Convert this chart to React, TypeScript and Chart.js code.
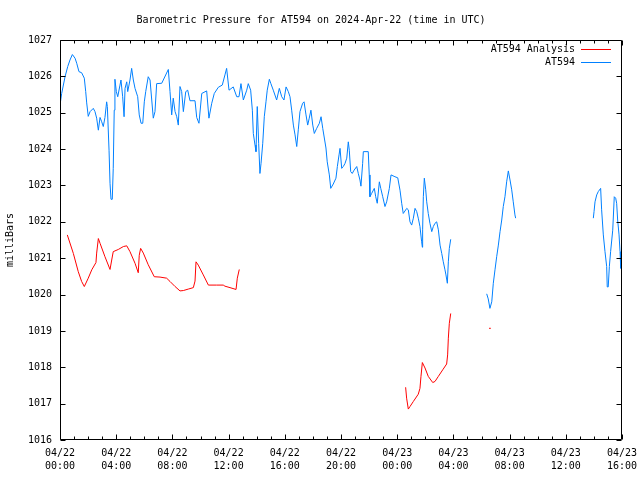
import React, { useEffect, useRef } from "react";
import { Chart, registerables } from "chart.js";

Chart.register(...registerables);

const TITLE = "Barometric Pressure for AT594 on 2024-Apr-22 (time in UTC)";
const Y_TITLE = "milliBars";
const OBS_LABEL = "AT594";
const ANALYSIS_LABEL = "AT594 Analysis";
const OBS_COLOR = "#0080ff";
const ANALYSIS_COLOR = "#ff0000";
const FONT_FAMILY = "'DejaVu Sans Mono', 'Liberation Mono', monospace";

const X_MIN = 0;
const X_MAX = 40;
const Y_MIN = 1016;
const Y_MAX = 1027;

const xTickHours = [0, 4, 8, 12, 16, 20, 24, 28, 32, 36, 40];
const xTickDates = ["04/22", "04/22", "04/22", "04/22", "04/22", "04/22", "04/23", "04/23", "04/23", "04/23", "04/23"];
const xTickTimes = ["00:00", "04:00", "08:00", "12:00", "16:00", "20:00", "00:00", "04:00", "08:00", "12:00", "16:00"];
const yTickValues = [1016, 1017, 1018, 1019, 1020, 1021, 1022, 1023, 1024, 1025, 1026, 1027];

// Observations (hours since 2024-04-22 00:00 UTC), null = no data
const obsHours = [
  0, 0.12, 0.36, 0.55, 0.71, 0.88, 1.07, 1.19, 1.35, 1.54,
  1.73, 1.83, 1.9, 2.01, 2.14, 2.37, 2.49, 2.61, 2.73, 2.85,
  2.97, 3.08, 3.2, 3.32, 3.37, 3.49, 3.56, 3.63, 3.72, 3.79,
  3.86, 3.91, 4.01, 4.11, 4.27, 4.34, 4.46, 4.56, 4.63, 4.75,
  4.82, 4.98, 5.1, 5.22, 5.34, 5.53, 5.64, 5.77, 5.89, 6.0,
  6.1, 6.28, 6.41, 6.53, 6.64, 6.76, 6.88, 7.24, 7.71, 7.83,
  7.95, 8.06, 8.19, 8.31, 8.42, 8.54, 8.66, 8.78, 8.95, 9.09,
  9.25, 9.61, 9.73, 9.89, 10.09, 10.44, 10.6, 10.8, 10.98, 11.27,
  11.55, 11.74, 11.86, 12.03, 12.33, 12.58, 12.74, 12.88, 13.05, 13.29,
  13.4, 13.57, 13.69, 13.76, 13.88, 13.95, 14.04, 14.14, 14.23, 14.31,
  14.43, 14.54, 14.66, 14.75, 14.9, 15.0, 15.18, 15.42, 15.61, 15.78,
  15.94, 16.09, 16.25, 16.37, 16.49, 16.61, 16.73, 16.85, 16.96, 17.08,
  17.27, 17.37, 17.51, 17.63, 17.74, 17.86, 17.99, 18.1, 18.27, 18.46,
  18.58, 18.7, 18.79, 18.93, 19.02, 19.17, 19.27, 19.45, 19.64, 19.74,
  19.86, 19.93, 20.05, 20.16, 20.28, 20.41, 20.52, 20.59, 20.69, 20.8,
  20.93, 21.12, 21.23, 21.35, 21.42, 21.54, 21.59, 21.94, 22.01, 22.06,
  22.18, 22.37, 22.47, 22.58, 22.73, 22.83, 22.97, 23.13, 23.25, 23.44,
  23.56, 23.84, 24.04, 24.2, 24.32, 24.43, 24.68, 24.79, 24.91, 25.03,
  25.15, 25.27, 25.39, 25.5, 25.62, 25.74, 25.79, 25.81, 25.86, 25.93,
  26.03, 26.1, 26.21, 26.33, 26.46, 26.57, 26.69, 26.81, 26.93, 27.05,
  27.17, 27.28, 27.4, 27.47, 27.57, 27.64, 27.71, 27.81, 29.0, 30.37,
  30.48, 30.6, 30.73, 30.84, 30.96, 31.08, 31.2, 31.32, 31.44, 31.55,
  31.67, 31.79, 31.91, 32.03, 32.15, 32.26, 32.38, 32.43, 35.0, 37.96,
  38.01, 38.08, 38.2, 38.31, 38.48, 38.55, 38.67, 38.79, 38.91, 38.95,
  39.02, 39.1, 39.19, 39.34, 39.45, 39.55, 39.62, 39.69, 39.79, 39.86,
  39.91,
];
const obsPressure = [
  1025.21, 1025.53, 1025.99, 1026.27, 1026.45, 1026.6, 1026.5, 1026.36, 1026.13, 1026.1,
  1025.95, 1025.58, 1025.27, 1024.9, 1025.03, 1025.12, 1025.03, 1024.85, 1024.52, 1024.87,
  1024.75, 1024.62, 1024.87, 1025.3, 1025.17, 1023.97, 1023.06, 1022.62, 1022.62, 1023.47,
  1025.07, 1025.92, 1025.58, 1025.44, 1025.76, 1025.9, 1025.44, 1024.89, 1025.67, 1025.85,
  1025.58, 1025.9, 1026.22, 1025.9, 1025.67, 1025.44, 1024.94, 1024.71, 1024.71, 1025.3,
  1025.58, 1025.99, 1025.9, 1025.35, 1024.85, 1025.03, 1025.8, 1025.81, 1026.19, 1025.58,
  1024.94, 1025.4, 1025.03, 1024.89, 1024.66, 1025.72, 1025.58, 1025.03, 1025.58, 1025.62,
  1025.33, 1025.33, 1024.87, 1024.71, 1025.53, 1025.6, 1024.85, 1025.26, 1025.53, 1025.7,
  1025.76, 1026.04, 1026.22, 1025.62, 1025.71, 1025.44, 1025.44, 1025.8, 1025.35, 1025.62,
  1025.8, 1025.62, 1025.07, 1024.43, 1024.11, 1023.93, 1025.17, 1024.16, 1023.33, 1023.61,
  1024.16, 1024.89, 1025.3, 1025.62, 1025.92, 1025.81, 1025.62, 1025.35, 1025.67, 1025.44,
  1025.35, 1025.71, 1025.58, 1025.44, 1025.07, 1024.66, 1024.39, 1024.07, 1024.53, 1025.03,
  1025.26, 1025.3, 1024.94, 1024.66, 1024.85, 1025.07, 1024.66, 1024.43, 1024.57, 1024.71,
  1024.89, 1024.57, 1024.36, 1024.03, 1023.65, 1023.29, 1022.92, 1023.04, 1023.2, 1023.52,
  1023.84, 1024.02, 1023.47, 1023.52, 1023.6, 1023.75, 1024.2, 1023.97, 1023.38, 1023.33,
  1023.42, 1023.52, 1023.33, 1023.15, 1022.98, 1023.6, 1023.93, 1023.93, 1023.29, 1022.69,
  1022.78, 1022.92, 1022.69, 1022.51, 1023.1, 1022.92, 1022.69, 1022.42, 1022.55, 1022.92,
  1023.29, 1023.24, 1023.21, 1022.87, 1022.51, 1022.23, 1022.37, 1022.33, 1022.0, 1021.91,
  1022.1, 1022.37, 1022.28, 1022.1, 1021.87, 1021.45, 1021.3, 1021.78, 1022.69, 1023.2,
  1022.88, 1022.55, 1022.23, 1021.96, 1021.73, 1021.87, 1021.96, 1022.0, 1021.78, 1021.36,
  1021.13, 1020.9, 1020.68, 1020.54, 1020.31, 1020.9, 1021.27, 1021.52, null, 1020.02,
  1019.88, 1019.62, 1019.8, 1020.31, 1020.68, 1021.04, 1021.36, 1021.73, 1022.05, 1022.42,
  1022.69, 1023.1, 1023.4, 1023.15, 1022.88, 1022.55, 1022.19, 1022.1, null, 1022.1,
  1022.28, 1022.55, 1022.74, 1022.83, 1022.92, 1022.33, 1021.64, 1021.18, 1020.77, 1020.21,
  1020.21, 1020.77, 1021.18, 1021.77, 1022.69, 1022.65, 1022.51, 1022.05, 1021.64, 1021.18,
  1020.72,
];

// Analysis series
const analysisHours = [
  0.52, 0.95, 1.3, 1.54, 1.73, 2.01, 2.26, 2.56, 2.61, 2.73,
  2.85, 3.2, 3.56, 3.68, 3.79, 4.15, 4.51, 4.75, 4.98, 5.34,
  5.57, 5.64, 5.74, 5.93, 6.28, 6.71, 7.12, 7.59, 7.83, 8.19,
  8.54, 8.78, 9.13, 9.49, 9.61, 9.68, 9.84, 10.2, 10.56, 11.15,
  11.62, 11.74, 12.1, 12.53, 12.62, 12.76, 18.0, 24.6, 24.67, 24.79,
  24.91, 25.15, 25.5, 25.62, 25.69, 25.79, 25.98, 26.21, 26.53, 26.69,
  26.93, 27.24, 27.52, 27.59, 27.64, 27.71, 27.81, 29.0, 30.6,
];
const analysisPressure = [
  1021.64, 1021.13, 1020.63, 1020.36, 1020.22, 1020.45, 1020.68, 1020.88, 1021.14, 1021.54,
  1021.41, 1021.04, 1020.69, 1020.95, 1021.18, 1021.24, 1021.32, 1021.34, 1021.18, 1020.86,
  1020.6, 1021.08, 1021.27, 1021.14, 1020.82, 1020.49, 1020.48, 1020.45, 1020.36, 1020.22,
  1020.1, 1020.11, 1020.15, 1020.19, 1020.37, 1020.9, 1020.81, 1020.54, 1020.26, 1020.26,
  1020.26, 1020.23, 1020.19, 1020.14, 1020.45, 1020.69, null, 1017.45, 1017.15, 1016.85,
  1016.92, 1017.06, 1017.26, 1017.42, 1017.74, 1018.13, 1017.98, 1017.75, 1017.58, 1017.61,
  1017.75, 1017.93, 1018.09, 1018.34, 1018.8, 1019.21, 1019.48, null, 1019.07,
];

function toPoints(hours: number[], values: (number | null)[]) {
  return hours.map((h, i) => ({ x: h, y: values[i] }));
}

function isolatedRadius(ctx: any) {
  const d = ctx.dataset.data as { x: number; y: number | null }[];
  const i = ctx.dataIndex;
  if (!d[i] || d[i].y == null) return 0;
  const prev = d[i - 1];
  const next = d[i + 1];
  const prevEmpty = !prev || prev.y == null;
  const nextEmpty = !next || next.y == null;
  return prevEmpty && nextEmpty ? 1 : 0;
}

const frameLegendPlugin = {
  id: "gnuFrameLegend",
  afterDatasetsDraw(chart: any) {
    const { ctx, chartArea: a, scales } = chart;
    const xs = scales.x;
    const ys = scales.y;
    const L = Math.round(a.left) + 0.5;
    const R = Math.round(a.right) - 0.5;
    const T = Math.round(a.top) + 0.5;
    const B = Math.round(a.bottom) - 0.5;
    ctx.save();
    ctx.strokeStyle = "#000";
    ctx.lineWidth = 1;
    ctx.beginPath();
    ctx.rect(L, T, R - L, B - T);
    for (let h = X_MIN; h <= X_MAX; h++) {
      const px = Math.round(xs.getPixelForValue(h)) + 0.5;
      const len = h % 4 === 0 ? 5 : 3;
      ctx.moveTo(px, B);
      ctx.lineTo(px, B - len);
      ctx.moveTo(px, T);
      ctx.lineTo(px, T + len);
    }
    for (const v of yTickValues) {
      const py = Math.round(ys.getPixelForValue(v)) + 0.5;
      ctx.moveTo(L, py);
      ctx.lineTo(L + 5, py);
      ctx.moveTo(R, py);
      ctx.lineTo(R - 5, py);
    }
    ctx.stroke();

    // key (legend) inside top-right
    const entries = [
      { label: ANALYSIS_LABEL, color: ANALYSIS_COLOR },
      { label: OBS_LABEL, color: OBS_COLOR },
    ];
    ctx.font = `10px ${FONT_FAMILY}`;
    ctx.textAlign = "right";
    ctx.textBaseline = "middle";
    entries.forEach((e, i) => {
      const y = Math.round(a.top + 9 + i * 13) + 0.5;
      ctx.fillStyle = "#000";
      ctx.fillText(e.label, a.right - 47, y);
      ctx.strokeStyle = e.color;
      ctx.beginPath();
      ctx.moveTo(a.right - 41, y);
      ctx.lineTo(a.right - 11, y);
      ctx.stroke();
    });
    ctx.restore();
  },
};

export default function App() {
  const canvasRef = useRef<HTMLCanvasElement | null>(null);

  useEffect(() => {
    if (!canvasRef.current) return;
    const font = { family: FONT_FAMILY, size: 10, weight: "normal" as const, lineHeight: 1.3 };
    const chart = new Chart(canvasRef.current, {
      type: "line",
      data: {
        datasets: [
          {
            label: ANALYSIS_LABEL,
            data: toPoints(analysisHours, analysisPressure) as any,
            borderColor: ANALYSIS_COLOR,
            backgroundColor: ANALYSIS_COLOR,
            borderWidth: 1,
            pointRadius: isolatedRadius as any,
            pointStyle: "rect",
            pointBorderWidth: 0,
            tension: 0,
            spanGaps: false,
          },
          {
            label: OBS_LABEL,
            data: toPoints(obsHours, obsPressure) as any,
            borderColor: OBS_COLOR,
            backgroundColor: OBS_COLOR,
            borderWidth: 1,
            pointRadius: isolatedRadius as any,
            pointStyle: "rect",
            pointBorderWidth: 0,
            tension: 0,
            spanGaps: false,
          },
        ],
      },
      options: {
        animation: false,
        responsive: false,
        events: [],
        layout: { padding: { left: 0, right: 18, top: 0, bottom: 0 } },
        plugins: {
          legend: { display: false },
          tooltip: { enabled: false },
          title: {
            display: true,
            text: TITLE,
            color: "#000",
            font: { family: FONT_FAMILY, size: 10, weight: "normal", lineHeight: 1.2 },
            padding: { top: 14, bottom: 14 },
          },
        },
        scales: {
          x: {
            type: "linear",
            min: X_MIN,
            max: X_MAX,
            grid: { display: false, drawTicks: false },
            border: { display: false },
            afterBuildTicks: (s: any) => {
              s.ticks = xTickHours.map((v) => ({ value: v }));
            },
            afterFit: (s: any) => {
              s.height = 40;
              s.paddingLeft = 0;
              s.paddingRight = 0;
            },
            ticks: {
              autoSkip: false,
              maxRotation: 0,
              minRotation: 0,
              padding: 7,
              color: "#000",
              font,
              callback: (v: any) => {
                const i = xTickHours.indexOf(Number(v));
                return i >= 0 ? [xTickDates[i], xTickTimes[i]] : "";
              },
            },
          },
          y: {
            type: "linear",
            min: Y_MIN,
            max: Y_MAX,
            grid: { display: false, drawTicks: false },
            border: { display: false },
            afterBuildTicks: (s: any) => {
              s.ticks = yTickValues.map((v) => ({ value: v }));
            },
            afterFit: (s: any) => {
              s.width = 60;
            },
            ticks: {
              padding: 8,
              color: "#000",
              font: { family: FONT_FAMILY, size: 10, weight: "normal" },
              callback: (v: any) => String(v),
            },
            title: {
              display: true,
              text: Y_TITLE,
              color: "#000",
              font: { family: FONT_FAMILY, size: 10, weight: "normal", lineHeight: 1.2 },
              padding: { top: 4, bottom: 0 },
            },
          },
        },
      },
      plugins: [frameLegendPlugin],
    });
    return () => chart.destroy();
  }, []);

  return (
    <div style={{ position: "fixed", left: 0, top: 0, width: 640, height: 480, background: "#fff" }}>
      <canvas ref={canvasRef} width={640} height={480} style={{ display: "block" }} />
    </div>
  );
}
